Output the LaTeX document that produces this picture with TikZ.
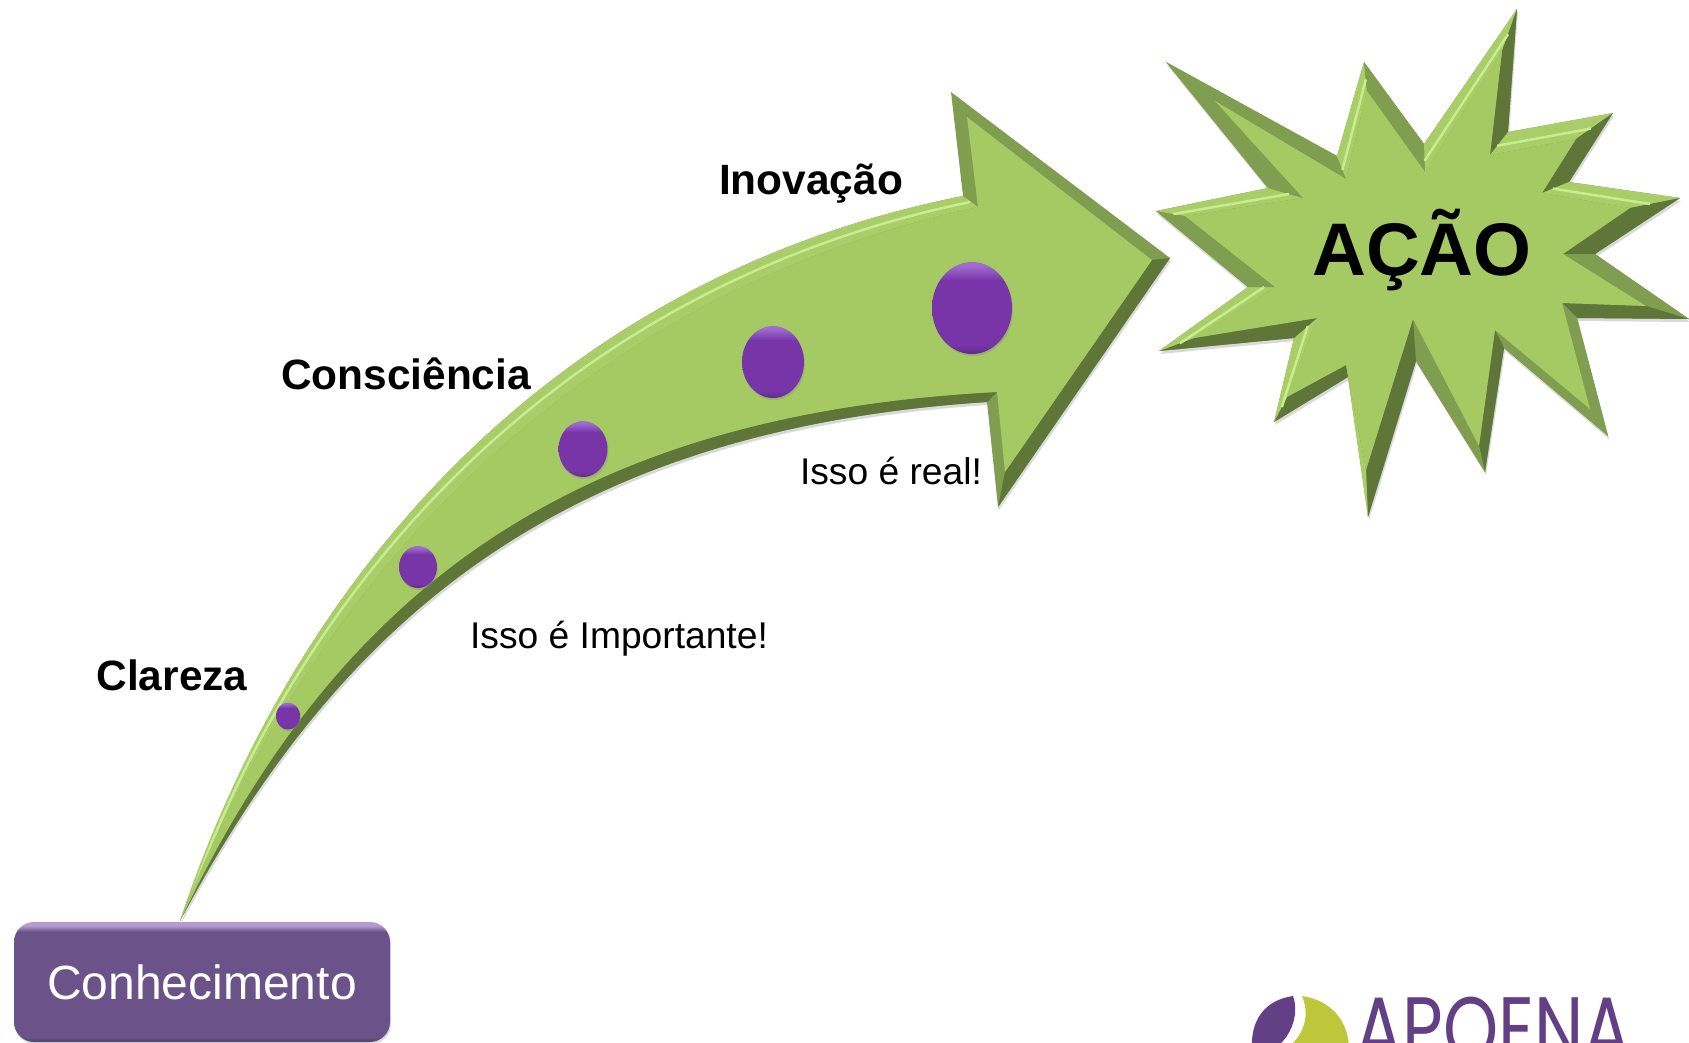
\documentclass[tikz,border=0pt]{standalone}
\usepackage{fontspec}
\setmainfont{Liberation Sans}
\newfontfamily\logofont{Poppins}
\usetikzlibrary{calc,shapes.geometric,shadows}

\definecolor{face}{HTML}{A5C963}
\definecolor{bevlight}{HTML}{A9CD68}
\definecolor{bevmid}{HTML}{7F9E4F}
\definecolor{bevdark}{HTML}{5E7638}
\definecolor{bevhi}{HTML}{C9EC8E}
\definecolor{ballfill}{HTML}{7735A8}
\definecolor{balllow}{HTML}{5E2A88}
\definecolor{ballhi}{HTML}{A06CD0}
\definecolor{boxfill}{HTML}{6B5288}
\definecolor{boxlow}{HTML}{54406E}
\definecolor{boxhi}{HTML}{B49CCF}
\definecolor{logopurple}{HTML}{633F85}
\definecolor{logogreen}{HTML}{BCC83A}

\pgfdeclareverticalshading{ballshade}{100bp}{color(0bp)=(balllow);color(25bp)=(balllow);color(30bp)=(ballfill);color(65bp)=(ballfill);color(73bp)=(ballhi);color(100bp)=(ballhi)}
\pgfdeclareverticalshading{boxshade}{100bp}{color(0bp)=(boxlow);color(25bp)=(boxlow);color(27bp)=(boxfill);color(71bp)=(boxfill);color(73.5bp)=(boxhi);color(100bp)=(boxhi)}

\begin{document}
\begin{tikzpicture}[x=1pt,y=-1pt]
\tikzset{ball/.style 2 args={ellipse,minimum width=#1,minimum height=#2,inner sep=0pt,shading=ballshade,drop shadow={opacity=.3,shadow xshift=1pt,shadow yshift=-2pt}},
  tag/.style={font=\fontsize{42.4}{46}\selectfont\bfseries,inner sep=0pt},
  note/.style={font=\fontsize{37.2}{40}\selectfont,inner sep=0pt}};
\useasboundingbox (0,0) rectangle (1689,1042);

% arrow
\coordinate (s) at (180,921);
\coordinate (un) at (963,196);
\coordinate (bt) at (951,92);
\coordinate (tp) at (1170,258);
\coordinate (bb) at (998,507);
\coordinate (ln) at (987,402);
\coordinate (uni) at (978,207);
\coordinate (bti) at (967,117);
\coordinate (tpi) at (1152,260);
\coordinate (bbi) at (1005,472);
\coordinate (lni) at (997,392);

\fill[bevmid,drop shadow={opacity=.3,shadow xshift=1pt,shadow yshift=-3pt}] (s) .. controls (290,590) and (540,280) .. (un) -- (bt) -- (tp) -- (bb) -- (ln) .. controls (560,430) and (340,620) .. (s) -- cycle;
\fill[bevlight] (s) .. controls (290,590) and (540,280) .. (un) -- (uni) .. controls (550,300) and (300,610) .. (s) -- cycle;
\draw[bevhi,line width=2.5pt] (190,900) .. controls (295,600) and (545,290) .. (970,202);
\fill[bevdark] (s) .. controls (340,620) and (560,430) .. (ln) -- (lni) .. controls (550,415) and (328,610) .. (s) -- cycle;
\fill[bevdark] (tp) -- (bb) -- (bbi) -- (tpi) -- cycle;
\fill[face] (s) .. controls (300,610) and (550,300) .. (uni) -- (bti) -- (tpi) -- (bbi) -- (lni) .. controls (550,415) and (328,610) .. (s) -- cycle;

\node[ball={24}{27}] (b1) at (288,716) {};
\node[ball={38}{42}] (b2) at (418,567) {};
\node[ball={49}{56}] (b3) at (583,449) {};
\node[ball={62}{72}] (b4) at (773,362) {};
\node[ball={80}{92}] (b5) at (972,308) {};

% star
\foreach \x/\y [count=\n] in {1166/62,1337/156,1364/62,1424/144,1517/9,1508/132,1613/113,1569/182,1680/198,1595/254,1689/319,1577/318,1608/436,1504/348,1485/472,1416/361,1368/517,1348/377,1274/422,1294/338,1159/351,1248/287,1156/211,1268/188}
  \coordinate (o\n) at (\x,\y);
\foreach \x/\y [count=\n] in {1215/101,1346/179,1367/91,1425/172,1502/51,1490/155,1576/139,1542/193,1630/208,1563/254,1646/306,1562/303,1590/409,1495/330,1479/446,1413/319,1366/470,1346/365,1287/397,1317/318,1194/338,1275/287,1185/216,1303/198}
  \coordinate (i\n) at (\x,\y);

\fill[bevmid,drop shadow={opacity=.3,shadow xshift=1pt,shadow yshift=-3pt}] (o1) -- (o2) -- (o3) -- (o4) -- (o5) -- (o6) -- (o7) -- (o8) -- (o9) -- (o10) -- (o11) -- (o12) -- (o13) -- (o14) -- (o15) -- (o16) -- (o17) -- (o18) -- (o19) -- (o20) -- (o21) -- (o22) -- (o23) -- (o24) -- cycle;
\foreach \a/\b/\c in {1/2/bevmid,2/3/bevlight,3/4/bevmid,4/5/bevlight,5/6/bevdark,6/7/bevlight,7/8/bevdark,8/9/bevlight,9/10/bevdark,10/11/bevmid,11/12/bevdark,12/13/bevmid,13/14/bevmid,14/15/bevdark,15/16/bevmid,16/17/bevdark,17/18/bevlight,18/19/bevdark,19/20/bevlight,20/21/bevdark,21/22/bevlight,22/23/bevmid,23/24/bevlight,24/1/bevmid}
  \fill[\c] (o\a) -- (o\b) -- (i\b) -- (i\a) -- cycle;
\foreach \a/\b in {2/3,4/5,6/7,8/9,19/20,21/22,23/24}
  \draw[bevhi,line width=2.5pt] ($(o\a)!.6!(i\a)$) -- ($(o\b)!.6!(i\b)$);
\fill[face] (i1) -- (i2) -- (i3) -- (i4) -- (i5) -- (i6) -- (i7) -- (i8) -- (i9) -- (i10) -- (i11) -- (i12) -- (i13) -- (i14) -- (i15) -- (i16) -- (i17) -- (i18) -- (i19) -- (i20) -- (i21) -- (i22) -- (i23) -- (i24) -- cycle;

\node[font=\fontsize{74.5}{80}\selectfont\bfseries,inner sep=0pt] (acao) at (1422,250) {AÇÃO};
\node[tag] (inov) at (811,184) {Inovação};
\node[tag] (cons) at (406,374) {Consciência};
\node[tag] (clar) at (172,675) {Clareza};
\node[note] (real) at (891,471) {Isso é real!};
\node[note] (impo) at (619,639) {Isso é Importante!};

% box
\node[rectangle,rounded corners=20pt,minimum width=376pt,minimum height=120pt,inner sep=0pt,shading=boxshade,text=white,font=\fontsize{48}{52}\selectfont,drop shadow={opacity=.3,shadow xshift=1pt,shadow yshift=-2pt}] (conh) at (202,982) {Conhecimento};

% logo
\begin{scope}
\clip (0,0) rectangle (1689,1042);
\fill[logopurple] (1293,996) .. controls (1265,1000) and (1250,1020) .. (1252,1050) -- (1272,1050) .. controls (1290,1040) and (1300,1015) .. (1293,996) -- cycle;
\fill[logogreen] (1302,996) .. controls (1330,1000) and (1349,1020) .. (1349,1050) -- (1285,1050) .. controls (1305,1035) and (1310,1015) .. (1302,996) -- cycle;
\node[anchor=north west,inner sep=0pt,text=logopurple,xscale=.78,transform shape,font=\logofont\fontsize{90}{90}\selectfont] (logo) at (1355,997) {APOENA};
\end{scope}
\end{tikzpicture}
\end{document}
